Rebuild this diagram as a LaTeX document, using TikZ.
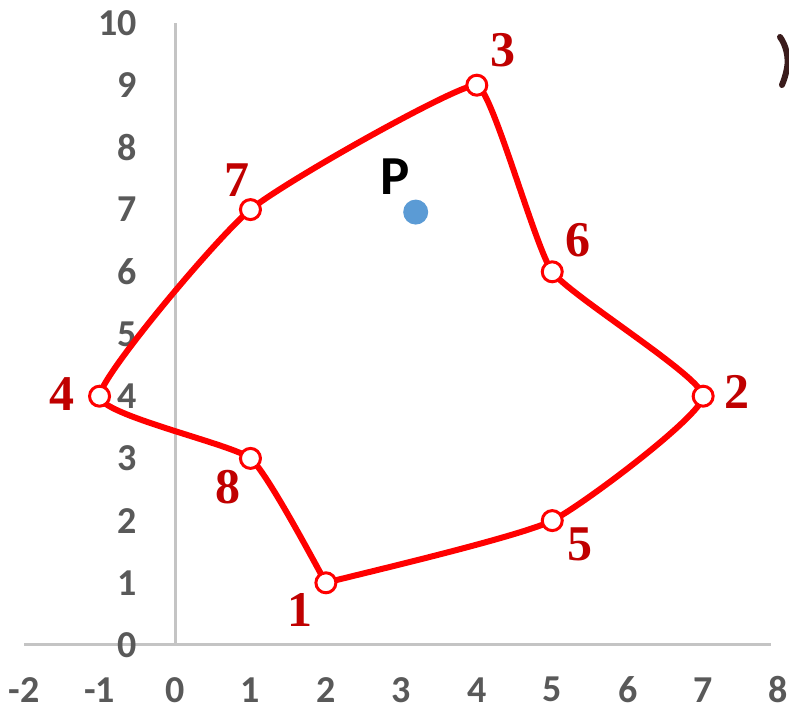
\documentclass[tikz,border=0pt]{standalone}
\usepackage{fontspec}
\setmainfont{Liberation Serif}
\newfontfamily\tickfont{Carlito}
\usetikzlibrary{calc}
\definecolor{curvered}{HTML}{FF0000}
\definecolor{labelred}{HTML}{C00000}
\definecolor{tickgray}{HTML}{595959}
\definecolor{axisgray}{HTML}{C4C4C4}
\definecolor{pblue}{HTML}{5B9BD5}
\definecolor{glyphdark}{HTML}{3A1C1C}
\begin{document}
\begin{tikzpicture}[x=1pt,y=1pt,
  ticklabel/.style={font=\tickfont\bfseries\fontsize{38}{38}\selectfont, text=tickgray, inner sep=0pt},
  ptlabel/.style={font=\bfseries\fontsize{50}{50}\selectfont, text=labelred, inner sep=0pt},
  plabel/.style={font=\tickfont\bfseries\fontsize{55}{55}\selectfont, text=black, inner sep=0pt},
  marker/.style={circle, draw=curvered, line width=3pt, fill=white, minimum size=20pt, inner sep=0pt},
  axisline/.style={draw=axisgray, line width=3pt},
  curve/.style={draw=curvered, line width=6pt, line join=round},
  dot/.style={circle, fill=pblue, minimum size=25pt, inner sep=0pt}
]
\useasboundingbox (0,0) rectangle (789,714);
\fill[white] (0,0) rectangle (789,714);
\begin{scope}[shift={(175,69)}, x=75.45pt, y=62.2pt]
  % axes
  \coordinate (ytop) at (0,10);
  \coordinate (orig) at (0,0);
  \coordinate (xl) at (-2.0,0);
  \coordinate (xr) at (7.9,0);
  \draw[axisline] (orig) -- (ytop);
  \draw[axisline] (xl) -- (xr);
  % tick labels
  \foreach \v in {0,...,10} \node[ticklabel, anchor=east] (yt\v) at (-0.5,\v) {\v};
  \foreach \v in {-2,...,8} \node[ticklabel] (xt\v) at (\v,-0.72) {\v};
  % points
  \coordinate (p1) at (2,1);
  \coordinate (p5) at (5,2);
  \coordinate (p2) at (7,4);
  \coordinate (p6) at (5,6);
  \coordinate (p3) at (4,9);
  \coordinate (p7) at (1,7);
  \coordinate (p4) at (-1,4);
  \coordinate (p8) at (1,3);
  \def\f{0.075}
  \draw[curve] (p1)
    .. controls ($(p1)+0.1*(p5)-0.1*(p1)$) and ($(p5)-0.09*(p2)+0.09*(p1)$) .. (p5)
    .. controls ($(p5)+\f*(p2)-\f*(p1)$) and ($(p2)-\f*(p6)+\f*(p5)$) .. (p2)
    .. controls ($(p2)+\f*(p6)-\f*(p5)$) and ($(p6)-\f*(p3)+\f*(p2)$) .. (p6)
    .. controls ($(p6)+\f*(p3)-\f*(p2)$) and ($(p3)-0.05*(p7)+0.05*(p6)$) .. (p3)
    .. controls ($(p3)+0.05*(p7)-0.05*(p6)$) and ($(p7)-0.09*(p4)+0.09*(p3)$) .. (p7)
    .. controls ($(p7)+0.09*(p4)-0.09*(p3)$) and ($(p4)-\f*(p8)+\f*(p7)$) .. (p4)
    .. controls ($(p4)+\f*(p8)-\f*(p7)$) and ($(p8)-\f*(p1)+\f*(p4)$) .. (p8)
    .. controls ($(p8)+\f*(p1)-\f*(p4)$) and ($(p1)-\f*(p1)+\f*(p8)$) .. (p1);
  \foreach \i in {1,...,8} \node[marker] (m\i) at (p\i) {};
  % labels
  \node[ptlabel] (l1) at (1.66,0.56) {1};
  \node[ptlabel] (l5) at (5.37,1.61) {5};
  \node[ptlabel] (l2) at (7.45,4.07) {2};
  \node[ptlabel] (l6) at (5.34,6.51) {6};
  \node[ptlabel] (l3) at (4.35,9.57) {3};
  \node[ptlabel] (l7) at (0.82,7.48) {7};
  \node[ptlabel] (l4) at (-1.50,4.04) {4};
  \node[ptlabel] (l8) at (0.70,2.54) {8};
  \node[dot] (P) at (3.19,6.96) {};
  \node[plabel] (lP) at (2.92,7.53) {P};
\end{scope}
% partial glyph at top right edge
\draw[glyphdark, line width=6pt, line cap=round]
  (780,677) .. controls (786,669) and (789,656) .. (787,646)
  .. controls (786,640) and (784,634) .. (782,629);
\end{tikzpicture}
\end{document}
